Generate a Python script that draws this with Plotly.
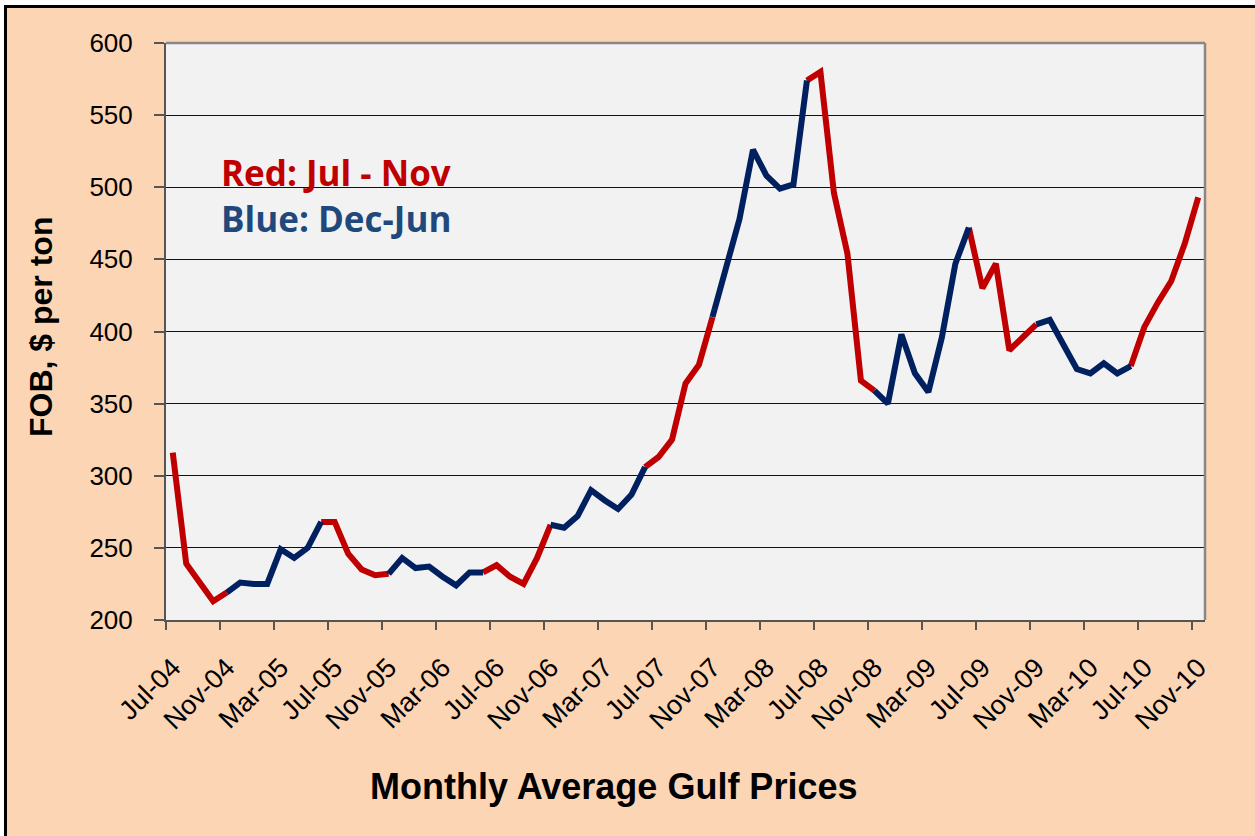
import plotly.graph_objects as go

# ---------------- data ----------------
months = [
    "Jul-04", "Aug-04", "Sep-04", "Oct-04", "Nov-04", "Dec-04",
    "Jan-05", "Feb-05", "Mar-05", "Apr-05", "May-05", "Jun-05",
    "Jul-05", "Aug-05", "Sep-05", "Oct-05", "Nov-05", "Dec-05",
    "Jan-06", "Feb-06", "Mar-06", "Apr-06", "May-06", "Jun-06",
    "Jul-06", "Aug-06", "Sep-06", "Oct-06", "Nov-06", "Dec-06",
    "Jan-07", "Feb-07", "Mar-07", "Apr-07", "May-07", "Jun-07",
    "Jul-07", "Aug-07", "Sep-07", "Oct-07", "Nov-07", "Dec-07",
    "Jan-08", "Feb-08", "Mar-08", "Apr-08", "May-08", "Jun-08",
    "Jul-08", "Aug-08", "Sep-08", "Oct-08", "Nov-08", "Dec-08",
    "Jan-09", "Feb-09", "Mar-09", "Apr-09", "May-09", "Jun-09",
    "Jul-09", "Aug-09", "Sep-09", "Oct-09", "Nov-09", "Dec-09",
    "Jan-10", "Feb-10", "Mar-10", "Apr-10", "May-10", "Jun-10",
    "Jul-10", "Aug-10", "Sep-10", "Oct-10", "Nov-10",
]

prices = [
    316, 239, 226, 213, 219, 226,
    225, 225, 249, 243, 250, 268,
    268, 246, 235, 231, 232, 243,
    236, 237, 230, 224, 233, 233,
    238, 230, 225, 243, 266, 264,
    272, 290, 283, 277, 287, 306,
    313, 325, 364, 377, 410, 444,
    478, 526, 508, 499, 502, 574,
    580, 496, 454, 366, 359, 350,
    398, 371, 358, 396, 447, 472,
    430, 447, 387, 396, 405, 408,
    391, 374, 371, 378, 371, 376,
    403, 420, 435, 461, 493,
]

red_months = ["Jul", "Aug", "Sep", "Oct", "Nov"]
tick_step = 4
y_ticks = [200, 250, 300, 350, 400, 450, 500, 550, 600]

# ---------------- segment colouring ----------------
# a segment takes the colour of the month it ends on
idx = list(range(len(months)))


def is_red(i):
    return months[i][:3] in red_months


red_y, blue_y = [], []
for i in idx:
    has_next = i + 1 < len(months)
    r_ok = is_red(i) or (has_next and is_red(i + 1))
    b_ok = (not is_red(i)) or (has_next and not is_red(i + 1))
    red_y.append(prices[i] if r_ok else None)
    blue_y.append(prices[i] if b_ok else None)

RED = "#C00000"
BLUE = "#002060"

fig = go.Figure()
fig.add_trace(go.Scatter(x=idx, y=red_y, mode="lines",
                         line=dict(color=RED, width=6), showlegend=False,
                         hoverinfo="skip"))
fig.add_trace(go.Scatter(x=idx, y=blue_y, mode="lines",
                         line=dict(color=BLUE, width=6), showlegend=False,
                         hoverinfo="skip"))

# ---------------- layout geometry ----------------
W, H = 1255, 836
L, R, T, B = 166, 50, 43, 216
PW, PH = W - L - R, H - T - B


def px_x(px):
    return (px - L) / PW


def px_y(py):
    return (H - B - py) / PH


tick_vals = idx[::tick_step]
tick_text = [months[i] for i in tick_vals]
boundary_vals = [v - 0.5 for v in tick_vals]

fig.update_layout(
    width=W, height=H,
    margin=dict(l=L, r=R, t=T, b=B, pad=0),
    paper_bgcolor="#FCD5B5",
    plot_bgcolor="#F2F2F2",
    font=dict(family="Liberation Sans, Arial, sans-serif", color="#000000"),
    xaxis=dict(
        range=[-0.5, len(months) - 0.5],
        tickmode="array", tickvals=tick_vals, ticktext=tick_text,
        tickangle=-45, ticks="", ticklabelstandoff=19,
        tickfont=dict(size=27, family="Liberation Sans, Arial, sans-serif"),
        showgrid=False, zeroline=False,
        showline=True, linecolor="#555555", linewidth=2,
        minor=dict(tickmode="array", tickvals=boundary_vals, ticks="outside",
                   ticklen=8, tickwidth=1.5, tickcolor="#555555", showgrid=False),
    ),
    yaxis=dict(
        range=[200, 600], tickmode="array", tickvals=y_ticks,
        ticks="outside", ticklen=10, tickwidth=1.5, tickcolor="#555555",
        ticklabelstandoff=16,
        tickfont=dict(size=26, family="Liberation Sans, Arial, sans-serif"),
        showgrid=True, gridcolor="#111111", gridwidth=1,
        zeroline=False, showline=True, linecolor="#555555", linewidth=2,
    ),
)

shapes = [
    # plot area border (top and right)
    dict(type="line", xref="paper", yref="paper", x0=0, x1=1, y0=1, y1=1,
         line=dict(color="#888888", width=2.5), layer="above"),
    dict(type="line", xref="paper", yref="paper", x0=1, x1=1, y0=0, y1=1,
         line=dict(color="#888888", width=2.5), layer="above"),
    # white margin outside the chart frame
    dict(type="rect", xref="paper", yref="paper", x0=px_x(-20), x1=px_x(W + 20),
         y0=px_y(5), y1=px_y(-20), fillcolor="#FFFFFF", line=dict(width=0), layer="above"),
    dict(type="rect", xref="paper", yref="paper", x0=px_x(-20), x1=px_x(4),
         y0=px_y(H + 20), y1=px_y(-20), fillcolor="#FFFFFF", line=dict(width=0), layer="above"),
    # black frame (top and left)
    dict(type="rect", xref="paper", yref="paper", x0=px_x(4), x1=px_x(W + 20),
         y0=px_y(8), y1=px_y(5), fillcolor="#000000", line=dict(width=0), layer="above"),
    dict(type="rect", xref="paper", yref="paper", x0=px_x(4), x1=px_x(7),
         y0=px_y(H + 20), y1=px_y(5), fillcolor="#000000", line=dict(width=0), layer="above"),
]
fig.update_layout(shapes=shapes)

annotations = [
    dict(text="Red: Jul - Nov", x=px_x(219), y=px_y(172), xref="paper", yref="paper",
         xanchor="left", yanchor="middle", showarrow=False,
         font=dict(family="Open Sans, sans-serif", size=35, color=RED, weight="bold")),
    dict(text="Blue: Dec-Jun", x=px_x(219), y=px_y(218), xref="paper", yref="paper",
         xanchor="left", yanchor="middle", showarrow=False,
         font=dict(family="Open Sans, sans-serif", size=35, color="#1F497D", weight="bold")),
    dict(text="FOB, $ per ton", x=px_x(41), y=px_y(327), xref="paper", yref="paper",
         xanchor="center", yanchor="middle", textangle=-90, showarrow=False,
         font=dict(family="Liberation Sans, Arial, sans-serif", size=32, color="#000000",
                   weight="bold")),
    dict(text="Monthly Average Gulf Prices", x=px_x(613), y=px_y(786), xref="paper",
         yref="paper", xanchor="center", yanchor="middle", showarrow=False,
         font=dict(family="Liberation Sans, Arial, sans-serif", size=36, color="#000000",
                   weight="bold")),
]
fig.update_layout(annotations=annotations)

fig.write_html("out.html",
               config={"displayModeBar": False},
               post_script="document.body.style.margin='0';document.body.style.padding='0';")
